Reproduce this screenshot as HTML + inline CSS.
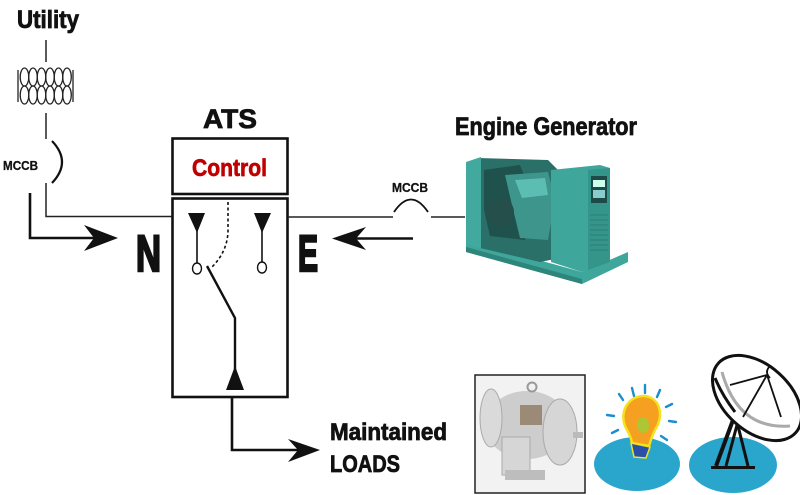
<!DOCTYPE html>
<html><head><meta charset="utf-8"><style>
html,body{margin:0;padding:0;background:#fff;}
svg{display:block;}
text{font-family:"Liberation Sans",sans-serif;font-weight:bold;}
</style></head><body>
<svg width="800" height="495" viewBox="0 0 800 495" xmlns="http://www.w3.org/2000/svg">
<rect width="800" height="495" fill="#fff"/>

<!-- Utility -->
<text x="17" y="28" font-size="25" textLength="62" lengthAdjust="spacingAndGlyphs" fill="#111" stroke="#111" stroke-width="0.8">Utility</text>
<line x1="46" y1="40" x2="46" y2="62" stroke="#222" stroke-width="1.5"/>
<!-- coil -->
<g fill="none" stroke="#222" stroke-width="1.3">
  <path d="M18 70 L18 102"/><path d="M73 70 L73 102"/>
  <ellipse cx="24.5" cy="77" rx="4.3" ry="9"/>
  <ellipse cx="33" cy="77" rx="4.3" ry="9"/>
  <ellipse cx="41.5" cy="77" rx="4.3" ry="9"/>
  <ellipse cx="50" cy="77" rx="4.3" ry="9"/>
  <ellipse cx="58.5" cy="77" rx="4.3" ry="9"/>
  <ellipse cx="67" cy="77" rx="4.3" ry="9"/>
  <ellipse cx="24.5" cy="95" rx="4.3" ry="9"/>
  <ellipse cx="33" cy="95" rx="4.3" ry="9"/>
  <ellipse cx="41.5" cy="95" rx="4.3" ry="9"/>
  <ellipse cx="50" cy="95" rx="4.3" ry="9"/>
  <ellipse cx="58.5" cy="95" rx="4.3" ry="9"/>
  <ellipse cx="67" cy="95" rx="4.3" ry="9"/>
</g>
<line x1="46" y1="113" x2="46" y2="139" stroke="#222" stroke-width="1.5"/>
<!-- MCCB left -->
<path d="M52 141 Q72 162 52 183" fill="none" stroke="#111" stroke-width="2.2"/>
<text x="3" y="170" font-size="13" textLength="35" lengthAdjust="spacingAndGlyphs" fill="#111" stroke="#111" stroke-width="0.3">MCCB</text>
<polyline points="46,183 46,216.5 173,216.5" fill="none" stroke="#222" stroke-width="1.5"/>

<!-- N arrow -->
<polyline points="30,193 30,238 95,238" fill="none" stroke="#111" stroke-width="2.6"/>
<polygon points="118,238 84,225 94,238 84,251" fill="#111"/>

<!-- ATS -->
<text x="203" y="128" font-size="27" textLength="54" lengthAdjust="spacingAndGlyphs" fill="#111" stroke="#111" stroke-width="0.8">ATS</text>
<rect x="172.5" y="138.5" width="115" height="55.5" fill="#fff" stroke="#111" stroke-width="2.6"/>
<text x="192" y="176" font-size="24" textLength="75" lengthAdjust="spacingAndGlyphs" fill="#c00000" stroke="#c00000" stroke-width="0.7">Control</text>
<rect x="172.5" y="198.5" width="115" height="198.5" fill="#fff" stroke="#111" stroke-width="2.6"/>

<text x="136" y="271" font-size="51" textLength="25" lengthAdjust="spacingAndGlyphs" fill="#111" stroke="#111" stroke-width="2.6">N</text>
<text x="298" y="271" font-size="51" textLength="20" lengthAdjust="spacingAndGlyphs" fill="#111" stroke="#111" stroke-width="2.6">E</text>

<!-- contacts -->
<polygon points="188,213 205,213 197,233" fill="#111"/>
<line x1="197" y1="230" x2="197" y2="264" stroke="#111" stroke-width="1.6"/>
<ellipse cx="197" cy="268.5" rx="4.5" ry="5.5" fill="#fff" stroke="#111" stroke-width="1.4"/>
<polygon points="254,213 271,213 262,233" fill="#111"/>
<line x1="262" y1="230" x2="262" y2="263" stroke="#111" stroke-width="1.6"/>
<ellipse cx="262" cy="267.5" rx="4.5" ry="5.5" fill="#fff" stroke="#111" stroke-width="1.4"/>
<path d="M228 202 L228 232 Q227 252 212 267" fill="none" stroke="#111" stroke-width="1.6" stroke-dasharray="3,2.5"/>
<polyline points="207,266 235,318 235,372" fill="none" stroke="#111" stroke-width="2.4"/>
<polygon points="235,366 226,390 244,390" fill="#111"/>

<!-- Right side line & MCCB -->
<line x1="288" y1="217" x2="393" y2="217" stroke="#222" stroke-width="1.5"/>
<path d="M394 212 Q411 187 428 212" fill="none" stroke="#111" stroke-width="1.8"/>
<line x1="431" y1="217" x2="465" y2="217" stroke="#222" stroke-width="1.5"/>
<text x="392" y="192" font-size="13" textLength="36" lengthAdjust="spacingAndGlyphs" fill="#111" stroke="#111" stroke-width="0.3">MCCB</text>
<!-- E arrow -->
<line x1="413" y1="238.5" x2="352" y2="238.5" stroke="#111" stroke-width="2.6"/>
<polygon points="332,238.5 366,227 356,238.5 366,250" fill="#111"/>

<text x="455" y="135" font-size="25" textLength="182" lengthAdjust="spacingAndGlyphs" fill="#111" stroke="#111" stroke-width="0.8">Engine Generator</text>

<!-- Generator -->
<g>
  <!-- base -->
  <polygon points="466,240 582,272 628,252 628,262 582,284 466,252" fill="#3fa69b"/>
  <polygon points="466,247 582,279 582,284 466,252" fill="#2e857c"/>
  <!-- engine -->
  <polygon points="478,158 548,160 560,172 560,258 540,262 480,248" fill="#2b6f69"/>
  <polygon points="484,170 520,165 530,190 525,240 490,236 484,210" fill="#1f514d"/>
  <polygon points="505,175 548,172 555,200 548,240 520,238 512,205" fill="#3d958c"/>
  <polygon points="515,180 545,178 548,195 522,198" fill="#5cbdb2"/>
  <circle cx="500" cy="212" r="14" fill="#244f4b"/>
  <!-- left panel -->
  <polygon points="466,162 481,157 481,248 466,244" fill="#41a99e"/>
  <!-- cabinet -->
  <polygon points="551,170 600,165 610,168 610,262 582,272 551,262" fill="#3fa69b"/>
  <polygon points="588,170 610,168 610,262 588,270" fill="#34958b"/>
  <rect x="591" y="176" width="16" height="27" fill="#1d4a47"/>
  <rect x="593" y="180" width="12" height="7" fill="#cfe"/>
  <rect x="593" y="190" width="12" height="8" fill="#8cc"/>
  <g stroke="#287a72" stroke-width="0.8">
    <line x1="590" y1="215" x2="608" y2="215"/><line x1="590" y1="220" x2="608" y2="220"/>
    <line x1="590" y1="225" x2="608" y2="225"/><line x1="590" y1="230" x2="608" y2="230"/>
    <line x1="590" y1="235" x2="608" y2="235"/><line x1="590" y1="240" x2="608" y2="240"/>
    <line x1="590" y1="245" x2="608" y2="245"/><line x1="590" y1="250" x2="608" y2="250"/>
  </g>
</g>

<!-- Loads arrow -->
<polyline points="232,397 232,450 300,450" fill="none" stroke="#111" stroke-width="2.6"/>
<polygon points="320,450 288,439 298,450 288,462" fill="#111"/>
<text x="330" y="440" font-size="24" textLength="117" lengthAdjust="spacingAndGlyphs" fill="#111" stroke="#111" stroke-width="0.8">Maintained</text>
<text x="330" y="472" font-size="24" textLength="70" lengthAdjust="spacingAndGlyphs" fill="#111" stroke="#111" stroke-width="0.8">LOADS</text>

<!-- Motor -->
<rect x="475" y="375" width="110" height="118" fill="#f2f2f2" stroke="#222" stroke-width="1.5"/>
<ellipse cx="527" cy="425" rx="42" ry="34" fill="#cdcdcd"/>
<ellipse cx="491" cy="418" rx="11" ry="29" fill="#dadada" stroke="#aaa" stroke-width="1"/>
<ellipse cx="560" cy="432" rx="17" ry="33" fill="#d6d6d6" stroke="#aaa" stroke-width="1"/>
<rect x="573" y="432" width="10" height="6" fill="#bbb"/>
<rect x="502" y="437" width="28" height="38" fill="#d6d6d6" stroke="#aaa" stroke-width="1"/>
<rect x="520" y="405" width="22" height="20" fill="#9a8a76"/>
<circle cx="532" cy="387" r="4.5" fill="none" stroke="#999" stroke-width="2"/>
<rect x="505" y="470" width="40" height="10" fill="#bdbdbd"/>

<!-- Bulb -->
<ellipse cx="637" cy="464" rx="43" ry="27" fill="#2aa6cc"/>
<g stroke="#1a8ed0" stroke-width="2.4" stroke-linecap="round">
  <line x1="632" y1="388" x2="634" y2="396"/>
  <line x1="645" y1="385" x2="645" y2="393"/>
  <line x1="660" y1="390" x2="657" y2="397"/>
  <line x1="619" y1="394" x2="623" y2="400"/>
  <line x1="607" y1="415" x2="614" y2="416"/>
  <line x1="672" y1="404" x2="666" y2="407"/>
  <line x1="676" y1="422" x2="669" y2="421"/>
  <line x1="612" y1="433" x2="618" y2="430"/>
  <line x1="667" y1="440" x2="661" y2="436"/>
</g>
<path d="M645 396 C660 398 664 415 656 428 C652 435 651 440 649 446 L632 443 C631 436 628 432 625 426 C619 410 630 395 645 396 Z" fill="#f5a020" stroke="#f3e21c" stroke-width="2.5"/>
<ellipse cx="643" cy="425" rx="6" ry="8" fill="#9bcf3a" opacity="0.8"/>
<polygon points="631,443 650,447 646,458 634,457" fill="#2a4fa8" stroke="#f3e21c" stroke-width="1.5"/>

<!-- Dish -->
<ellipse cx="733" cy="465" rx="44" ry="28" fill="#2aa6cc"/>
<g stroke="#111" fill="none">
  <line x1="716" y1="466" x2="733" y2="420" stroke-width="4"/>
  <line x1="726" y1="466" x2="737" y2="425" stroke-width="3"/>
  <line x1="748" y1="466" x2="737" y2="422" stroke-width="3"/>
</g>
<line x1="711" y1="467.5" x2="755" y2="467.5" stroke="#111" stroke-width="3"/>
<ellipse cx="757" cy="398" rx="52" ry="33" transform="rotate(42 757 398)" fill="#fff" stroke="#111" stroke-width="3"/>
<path d="M715 378 Q722 395 735 412" fill="none" stroke="#111" stroke-width="3"/>
<path d="M722 372 Q738 430 790 426" fill="none" stroke="#aaa" stroke-width="3"/>
<g stroke="#111" stroke-width="1.8" fill="none">
  <line x1="730" y1="385" x2="767" y2="375"/>
  <line x1="767" y1="375" x2="743" y2="417"/>
  <line x1="767" y1="375" x2="781" y2="417"/>
  <path d="M770 366 Q764 372 770 378"/>
</g>
</svg>
</body></html>
